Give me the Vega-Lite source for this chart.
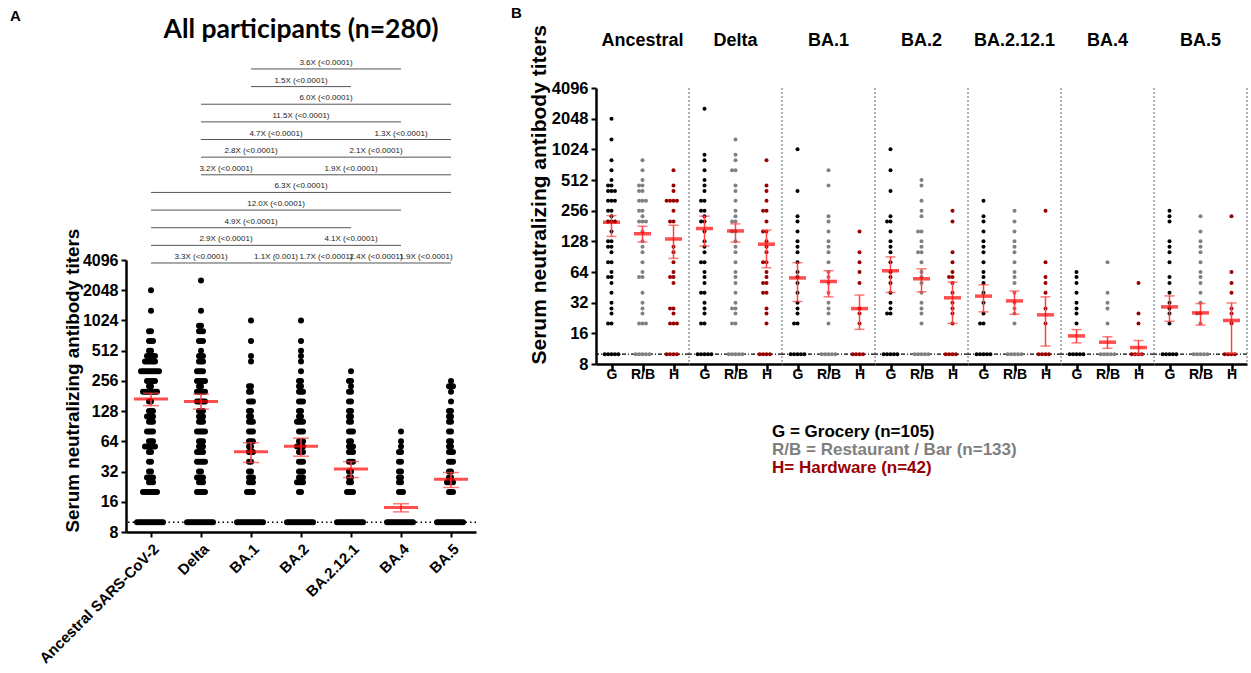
{
"$schema":"https://vega.github.io/schema/vega-lite/v6.json",
"padding":{"left":10,"top":6,"right":2,"bottom":0},
"config":{"font":"Liberation Sans","view":{"stroke":null},
"axis":{"domainColor":"black","domainWidth":2.5,"tickColor":"black","tickWidth":2,"tickSize":5,"labelColor":"black","labelFontWeight":"bold","titleColor":"black","titleFontWeight":"bold","grid":false,"labelFont":"Liberation Sans","titleFont":"Liberation Sans"},
"title":{"font":"Liberation Sans","fontWeight":"bold","color":"black"}},
"resolve":{"scale":{"x":"independent","y":"independent","xOffset":"independent"}},
"datasets":{
"br":[{"a":0,"b":2,"r":1,"lab":"3.3X (<0.0001)"},{"a":2,"b":3,"r":1,"lab":"1.1X (0.001)"},{"a":3,"b":4,"r":1,"lab":"1.7X (<0.0001)"},{"a":4,"b":5,"r":1,"lab":"2.4X (<0.0001)"},{"a":5,"b":6,"r":1,"lab":"1.9X (<0.0001)"},{"a":0,"b":3,"r":2,"lab":"2.9X (<0.0001)"},{"a":3,"b":5,"r":2,"lab":"4.1X (<0.0001)"},{"a":0,"b":4,"r":3,"lab":"4.9X (<0.0001)"},{"a":0,"b":5,"r":4,"lab":"12.0X (<0.0001)"},{"a":0,"b":6,"r":5,"lab":"6.3X (<0.0001)"},{"a":1,"b":2,"r":6,"lab":"3.2X (<0.0001)"},{"a":2,"b":6,"r":6,"lab":"1.9X (<0.0001)"},{"a":1,"b":3,"r":7,"lab":"2.8X (<0.0001)"},{"a":3,"b":6,"r":7,"lab":"2.1X (<0.0001)"},{"a":1,"b":4,"r":8,"lab":"4.7X (<0.0001)"},{"a":4,"b":6,"r":8,"lab":"1.3X (<0.0001)"},{"a":1,"b":5,"r":9,"lab":"11.5X (<0.0001)"},{"a":1,"b":6,"r":10,"lab":"6.0X (<0.0001)"},{"a":2,"b":4,"r":11,"lab":"1.5X (<0.0001)"},{"a":2,"b":5,"r":12,"lab":"3.6X (<0.0001)"}],
"a":[{"v":"Ancestral","m":169,"lo":145,"hi":193},{"v":"Delta","m":160,"lo":134,"hi":189},{"v":"BA.1","m":50.5,"lo":39.4,"hi":62},{"v":"BA.2","m":57.3,"lo":45.5,"hi":68.8},{"v":"BA.2.12.1","m":34,"lo":27.9,"hi":40.2},{"v":"BA.4","m":14,"lo":12.7,"hi":15.3},{"v":"BA.5","m":26.9,"lo":22.2,"hi":31.3}],
"b":[
{"v":"Ancestral","g":"G","m":197,"lo":143,"hi":229},{"v":"Ancestral","g":"R/B","m":152,"lo":126,"hi":180},{"v":"Ancestral","g":"H","m":135,"lo":87,"hi":184},
{"v":"Delta","g":"G","m":171,"lo":115,"hi":226},{"v":"Delta","g":"R/B","m":162,"lo":126,"hi":190},{"v":"Delta","g":"H","m":120,"lo":70.5,"hi":165},
{"v":"BA.1","g":"G","m":56,"lo":32.9,"hi":79},{"v":"BA.1","g":"R/B","m":51.7,"lo":36.5,"hi":65.8},{"v":"BA.1","g":"H","m":28,"lo":17.5,"hi":38},
{"v":"BA.2","g":"G","m":65.8,"lo":40.3,"hi":90},{"v":"BA.2","g":"R/B","m":54.9,"lo":40.9,"hi":68.7},{"v":"BA.2","g":"H","m":35.7,"lo":20,"hi":50.9},
{"v":"BA.2.12.1","g":"G","m":37.1,"lo":26,"hi":47.9},{"v":"BA.2.12.1","g":"R/B","m":33.3,"lo":24.6,"hi":41.6},{"v":"BA.2.12.1","g":"H","m":24.3,"lo":12,"hi":36.5},
{"v":"BA.4","g":"G","m":15.1,"lo":12.9,"hi":17.4},{"v":"BA.4","g":"R/B","m":13.1,"lo":11.4,"hi":14.8},{"v":"BA.4","g":"H","m":11.6,"lo":9.9,"hi":13.6},
{"v":"BA.5","g":"G","m":29.1,"lo":21,"hi":37.3},{"v":"BA.5","g":"R/B","m":25.4,"lo":19.3,"hi":31.4},{"v":"BA.5","g":"H","m":21.4,"lo":10.2,"hi":31.8},
{"v":"Ancestral","g":"G","t":2048},{"v":"Ancestral","g":"G","t":1280},{"v":"Ancestral","g":"G","t":800},{"v":"Ancestral","g":"G","t":640},{"v":"Ancestral","g":"G","t":512},{"v":"Ancestral","g":"G","t":453},{"v":"Ancestral","g":"G","t":453},{"v":"Ancestral","g":"G","t":400},{"v":"Ancestral","g":"G","t":400},{"v":"Ancestral","g":"G","t":400},{"v":"Ancestral","g":"G","t":320},{"v":"Ancestral","g":"G","t":320},{"v":"Ancestral","g":"G","t":320},{"v":"Ancestral","g":"G","t":256},{"v":"Ancestral","g":"G","t":256},{"v":"Ancestral","g":"G","t":226},{"v":"Ancestral","g":"G","t":200},{"v":"Ancestral","g":"G","t":200},{"v":"Ancestral","g":"G","t":200},{"v":"Ancestral","g":"G","t":160},{"v":"Ancestral","g":"G","t":128},{"v":"Ancestral","g":"G","t":128},{"v":"Ancestral","g":"G","t":113},{"v":"Ancestral","g":"G","t":113},{"v":"Ancestral","g":"G","t":100},{"v":"Ancestral","g":"G","t":80},{"v":"Ancestral","g":"G","t":80},{"v":"Ancestral","g":"G","t":64},{"v":"Ancestral","g":"G","t":57},{"v":"Ancestral","g":"G","t":57},{"v":"Ancestral","g":"G","t":50},{"v":"Ancestral","g":"G","t":40},{"v":"Ancestral","g":"G","t":32},{"v":"Ancestral","g":"G","t":28},{"v":"Ancestral","g":"G","t":25},{"v":"Ancestral","g":"G","t":20},{"v":"Ancestral","g":"G","t":20},{"v":"Ancestral","g":"G","t":10},{"v":"Ancestral","g":"G","t":10},{"v":"Ancestral","g":"G","t":10},{"v":"Ancestral","g":"G","t":10},{"v":"Ancestral","g":"G","t":10},
{"v":"Ancestral","g":"R/B","t":800},{"v":"Ancestral","g":"R/B","t":640},{"v":"Ancestral","g":"R/B","t":512},{"v":"Ancestral","g":"R/B","t":453},{"v":"Ancestral","g":"R/B","t":453},{"v":"Ancestral","g":"R/B","t":400},{"v":"Ancestral","g":"R/B","t":400},{"v":"Ancestral","g":"R/B","t":320},{"v":"Ancestral","g":"R/B","t":320},{"v":"Ancestral","g":"R/B","t":320},{"v":"Ancestral","g":"R/B","t":256},{"v":"Ancestral","g":"R/B","t":256},{"v":"Ancestral","g":"R/B","t":226},{"v":"Ancestral","g":"R/B","t":200},{"v":"Ancestral","g":"R/B","t":200},{"v":"Ancestral","g":"R/B","t":200},{"v":"Ancestral","g":"R/B","t":160},{"v":"Ancestral","g":"R/B","t":128},{"v":"Ancestral","g":"R/B","t":113},{"v":"Ancestral","g":"R/B","t":100},{"v":"Ancestral","g":"R/B","t":80},{"v":"Ancestral","g":"R/B","t":64},{"v":"Ancestral","g":"R/B","t":57},{"v":"Ancestral","g":"R/B","t":57},{"v":"Ancestral","g":"R/B","t":40},{"v":"Ancestral","g":"R/B","t":32},{"v":"Ancestral","g":"R/B","t":28},{"v":"Ancestral","g":"R/B","t":25},{"v":"Ancestral","g":"R/B","t":20},{"v":"Ancestral","g":"R/B","t":20},{"v":"Ancestral","g":"R/B","t":20},{"v":"Ancestral","g":"R/B","t":10},{"v":"Ancestral","g":"R/B","t":10},{"v":"Ancestral","g":"R/B","t":10},{"v":"Ancestral","g":"R/B","t":10},{"v":"Ancestral","g":"R/B","t":10},
{"v":"Ancestral","g":"H","t":640},{"v":"Ancestral","g":"H","t":453},{"v":"Ancestral","g":"H","t":400},{"v":"Ancestral","g":"H","t":320},{"v":"Ancestral","g":"H","t":320},{"v":"Ancestral","g":"H","t":320},{"v":"Ancestral","g":"H","t":320},{"v":"Ancestral","g":"H","t":256},{"v":"Ancestral","g":"H","t":200},{"v":"Ancestral","g":"H","t":200},{"v":"Ancestral","g":"H","t":113},{"v":"Ancestral","g":"H","t":100},{"v":"Ancestral","g":"H","t":80},{"v":"Ancestral","g":"H","t":64},{"v":"Ancestral","g":"H","t":57},{"v":"Ancestral","g":"H","t":57},{"v":"Ancestral","g":"H","t":50},{"v":"Ancestral","g":"H","t":28},{"v":"Ancestral","g":"H","t":28},{"v":"Ancestral","g":"H","t":25},{"v":"Ancestral","g":"H","t":20},{"v":"Ancestral","g":"H","t":20},{"v":"Ancestral","g":"H","t":20},{"v":"Ancestral","g":"H","t":10},{"v":"Ancestral","g":"H","t":10},{"v":"Ancestral","g":"H","t":10},{"v":"Ancestral","g":"H","t":10},
{"v":"Delta","g":"G","t":2560},{"v":"Delta","g":"G","t":905},{"v":"Delta","g":"G","t":800},{"v":"Delta","g":"G","t":640},{"v":"Delta","g":"G","t":512},{"v":"Delta","g":"G","t":453},{"v":"Delta","g":"G","t":400},{"v":"Delta","g":"G","t":320},{"v":"Delta","g":"G","t":320},{"v":"Delta","g":"G","t":256},{"v":"Delta","g":"G","t":256},{"v":"Delta","g":"G","t":226},{"v":"Delta","g":"G","t":200},{"v":"Delta","g":"G","t":200},{"v":"Delta","g":"G","t":160},{"v":"Delta","g":"G","t":128},{"v":"Delta","g":"G","t":113},{"v":"Delta","g":"G","t":100},{"v":"Delta","g":"G","t":80},{"v":"Delta","g":"G","t":80},{"v":"Delta","g":"G","t":64},{"v":"Delta","g":"G","t":57},{"v":"Delta","g":"G","t":50},{"v":"Delta","g":"G","t":40},{"v":"Delta","g":"G","t":40},{"v":"Delta","g":"G","t":32},{"v":"Delta","g":"G","t":28},{"v":"Delta","g":"G","t":25},{"v":"Delta","g":"G","t":20},{"v":"Delta","g":"G","t":20},{"v":"Delta","g":"G","t":10},{"v":"Delta","g":"G","t":10},{"v":"Delta","g":"G","t":10},{"v":"Delta","g":"G","t":10},{"v":"Delta","g":"G","t":10},
{"v":"Delta","g":"R/B","t":1280},{"v":"Delta","g":"R/B","t":905},{"v":"Delta","g":"R/B","t":800},{"v":"Delta","g":"R/B","t":640},{"v":"Delta","g":"R/B","t":640},{"v":"Delta","g":"R/B","t":453},{"v":"Delta","g":"R/B","t":400},{"v":"Delta","g":"R/B","t":320},{"v":"Delta","g":"R/B","t":256},{"v":"Delta","g":"R/B","t":226},{"v":"Delta","g":"R/B","t":200},{"v":"Delta","g":"R/B","t":200},{"v":"Delta","g":"R/B","t":160},{"v":"Delta","g":"R/B","t":160},{"v":"Delta","g":"R/B","t":128},{"v":"Delta","g":"R/B","t":113},{"v":"Delta","g":"R/B","t":100},{"v":"Delta","g":"R/B","t":80},{"v":"Delta","g":"R/B","t":64},{"v":"Delta","g":"R/B","t":57},{"v":"Delta","g":"R/B","t":50},{"v":"Delta","g":"R/B","t":40},{"v":"Delta","g":"R/B","t":32},{"v":"Delta","g":"R/B","t":28},{"v":"Delta","g":"R/B","t":28},{"v":"Delta","g":"R/B","t":25},{"v":"Delta","g":"R/B","t":20},{"v":"Delta","g":"R/B","t":20},{"v":"Delta","g":"R/B","t":10},{"v":"Delta","g":"R/B","t":10},{"v":"Delta","g":"R/B","t":10},{"v":"Delta","g":"R/B","t":10},{"v":"Delta","g":"R/B","t":10},
{"v":"Delta","g":"H","t":800},{"v":"Delta","g":"H","t":453},{"v":"Delta","g":"H","t":400},{"v":"Delta","g":"H","t":320},{"v":"Delta","g":"H","t":256},{"v":"Delta","g":"H","t":256},{"v":"Delta","g":"H","t":200},{"v":"Delta","g":"H","t":160},{"v":"Delta","g":"H","t":160},{"v":"Delta","g":"H","t":128},{"v":"Delta","g":"H","t":113},{"v":"Delta","g":"H","t":100},{"v":"Delta","g":"H","t":80},{"v":"Delta","g":"H","t":80},{"v":"Delta","g":"H","t":64},{"v":"Delta","g":"H","t":57},{"v":"Delta","g":"H","t":50},{"v":"Delta","g":"H","t":50},{"v":"Delta","g":"H","t":40},{"v":"Delta","g":"H","t":40},{"v":"Delta","g":"H","t":28},{"v":"Delta","g":"H","t":25},{"v":"Delta","g":"H","t":20},{"v":"Delta","g":"H","t":10},{"v":"Delta","g":"H","t":10},{"v":"Delta","g":"H","t":10},{"v":"Delta","g":"H","t":10},
{"v":"BA.1","g":"G","t":1024},{"v":"BA.1","g":"G","t":400},{"v":"BA.1","g":"G","t":226},{"v":"BA.1","g":"G","t":200},{"v":"BA.1","g":"G","t":160},{"v":"BA.1","g":"G","t":128},{"v":"BA.1","g":"G","t":113},{"v":"BA.1","g":"G","t":100},{"v":"BA.1","g":"G","t":80},{"v":"BA.1","g":"G","t":64},{"v":"BA.1","g":"G","t":57},{"v":"BA.1","g":"G","t":50},{"v":"BA.1","g":"G","t":40},{"v":"BA.1","g":"G","t":32},{"v":"BA.1","g":"G","t":28},{"v":"BA.1","g":"G","t":25},{"v":"BA.1","g":"G","t":20},{"v":"BA.1","g":"G","t":20},{"v":"BA.1","g":"G","t":10},{"v":"BA.1","g":"G","t":10},{"v":"BA.1","g":"G","t":10},{"v":"BA.1","g":"G","t":10},{"v":"BA.1","g":"G","t":10},
{"v":"BA.1","g":"R/B","t":640},{"v":"BA.1","g":"R/B","t":453},{"v":"BA.1","g":"R/B","t":226},{"v":"BA.1","g":"R/B","t":200},{"v":"BA.1","g":"R/B","t":160},{"v":"BA.1","g":"R/B","t":128},{"v":"BA.1","g":"R/B","t":113},{"v":"BA.1","g":"R/B","t":100},{"v":"BA.1","g":"R/B","t":80},{"v":"BA.1","g":"R/B","t":64},{"v":"BA.1","g":"R/B","t":57},{"v":"BA.1","g":"R/B","t":50},{"v":"BA.1","g":"R/B","t":40},{"v":"BA.1","g":"R/B","t":32},{"v":"BA.1","g":"R/B","t":28},{"v":"BA.1","g":"R/B","t":25},{"v":"BA.1","g":"R/B","t":20},{"v":"BA.1","g":"R/B","t":10},{"v":"BA.1","g":"R/B","t":10},{"v":"BA.1","g":"R/B","t":10},{"v":"BA.1","g":"R/B","t":10},{"v":"BA.1","g":"R/B","t":10},
{"v":"BA.1","g":"H","t":160},{"v":"BA.1","g":"H","t":100},{"v":"BA.1","g":"H","t":80},{"v":"BA.1","g":"H","t":64},{"v":"BA.1","g":"H","t":50},{"v":"BA.1","g":"H","t":28},{"v":"BA.1","g":"H","t":25},{"v":"BA.1","g":"H","t":20},{"v":"BA.1","g":"H","t":10},{"v":"BA.1","g":"H","t":10},{"v":"BA.1","g":"H","t":10},{"v":"BA.1","g":"H","t":10},
{"v":"BA.2","g":"G","t":1024},{"v":"BA.2","g":"G","t":640},{"v":"BA.2","g":"G","t":400},{"v":"BA.2","g":"G","t":226},{"v":"BA.2","g":"G","t":200},{"v":"BA.2","g":"G","t":200},{"v":"BA.2","g":"G","t":160},{"v":"BA.2","g":"G","t":128},{"v":"BA.2","g":"G","t":113},{"v":"BA.2","g":"G","t":100},{"v":"BA.2","g":"G","t":80},{"v":"BA.2","g":"G","t":64},{"v":"BA.2","g":"G","t":57},{"v":"BA.2","g":"G","t":50},{"v":"BA.2","g":"G","t":40},{"v":"BA.2","g":"G","t":32},{"v":"BA.2","g":"G","t":28},{"v":"BA.2","g":"G","t":25},{"v":"BA.2","g":"G","t":25},{"v":"BA.2","g":"G","t":10},{"v":"BA.2","g":"G","t":10},{"v":"BA.2","g":"G","t":10},{"v":"BA.2","g":"G","t":10},{"v":"BA.2","g":"G","t":10},
{"v":"BA.2","g":"R/B","t":512},{"v":"BA.2","g":"R/B","t":453},{"v":"BA.2","g":"R/B","t":320},{"v":"BA.2","g":"R/B","t":256},{"v":"BA.2","g":"R/B","t":226},{"v":"BA.2","g":"R/B","t":160},{"v":"BA.2","g":"R/B","t":160},{"v":"BA.2","g":"R/B","t":128},{"v":"BA.2","g":"R/B","t":113},{"v":"BA.2","g":"R/B","t":100},{"v":"BA.2","g":"R/B","t":100},{"v":"BA.2","g":"R/B","t":80},{"v":"BA.2","g":"R/B","t":64},{"v":"BA.2","g":"R/B","t":57},{"v":"BA.2","g":"R/B","t":50},{"v":"BA.2","g":"R/B","t":40},{"v":"BA.2","g":"R/B","t":32},{"v":"BA.2","g":"R/B","t":28},{"v":"BA.2","g":"R/B","t":25},{"v":"BA.2","g":"R/B","t":20},{"v":"BA.2","g":"R/B","t":10},{"v":"BA.2","g":"R/B","t":10},{"v":"BA.2","g":"R/B","t":10},{"v":"BA.2","g":"R/B","t":10},{"v":"BA.2","g":"R/B","t":10},
{"v":"BA.2","g":"H","t":256},{"v":"BA.2","g":"H","t":200},{"v":"BA.2","g":"H","t":100},{"v":"BA.2","g":"H","t":80},{"v":"BA.2","g":"H","t":64},{"v":"BA.2","g":"H","t":57},{"v":"BA.2","g":"H","t":57},{"v":"BA.2","g":"H","t":50},{"v":"BA.2","g":"H","t":40},{"v":"BA.2","g":"H","t":32},{"v":"BA.2","g":"H","t":28},{"v":"BA.2","g":"H","t":25},{"v":"BA.2","g":"H","t":20},{"v":"BA.2","g":"H","t":10},{"v":"BA.2","g":"H","t":10},{"v":"BA.2","g":"H","t":10},{"v":"BA.2","g":"H","t":10},
{"v":"BA.2.12.1","g":"G","t":320},{"v":"BA.2.12.1","g":"G","t":226},{"v":"BA.2.12.1","g":"G","t":200},{"v":"BA.2.12.1","g":"G","t":160},{"v":"BA.2.12.1","g":"G","t":128},{"v":"BA.2.12.1","g":"G","t":113},{"v":"BA.2.12.1","g":"G","t":100},{"v":"BA.2.12.1","g":"G","t":80},{"v":"BA.2.12.1","g":"G","t":64},{"v":"BA.2.12.1","g":"G","t":57},{"v":"BA.2.12.1","g":"G","t":50},{"v":"BA.2.12.1","g":"G","t":40},{"v":"BA.2.12.1","g":"G","t":32},{"v":"BA.2.12.1","g":"G","t":25},{"v":"BA.2.12.1","g":"G","t":20},{"v":"BA.2.12.1","g":"G","t":20},{"v":"BA.2.12.1","g":"G","t":10},{"v":"BA.2.12.1","g":"G","t":10},{"v":"BA.2.12.1","g":"G","t":10},{"v":"BA.2.12.1","g":"G","t":10},{"v":"BA.2.12.1","g":"G","t":10},
{"v":"BA.2.12.1","g":"R/B","t":256},{"v":"BA.2.12.1","g":"R/B","t":200},{"v":"BA.2.12.1","g":"R/B","t":160},{"v":"BA.2.12.1","g":"R/B","t":128},{"v":"BA.2.12.1","g":"R/B","t":113},{"v":"BA.2.12.1","g":"R/B","t":100},{"v":"BA.2.12.1","g":"R/B","t":80},{"v":"BA.2.12.1","g":"R/B","t":64},{"v":"BA.2.12.1","g":"R/B","t":57},{"v":"BA.2.12.1","g":"R/B","t":50},{"v":"BA.2.12.1","g":"R/B","t":40},{"v":"BA.2.12.1","g":"R/B","t":32},{"v":"BA.2.12.1","g":"R/B","t":28},{"v":"BA.2.12.1","g":"R/B","t":25},{"v":"BA.2.12.1","g":"R/B","t":20},{"v":"BA.2.12.1","g":"R/B","t":10},{"v":"BA.2.12.1","g":"R/B","t":10},{"v":"BA.2.12.1","g":"R/B","t":10},{"v":"BA.2.12.1","g":"R/B","t":10},{"v":"BA.2.12.1","g":"R/B","t":10},
{"v":"BA.2.12.1","g":"H","t":256},{"v":"BA.2.12.1","g":"H","t":80},{"v":"BA.2.12.1","g":"H","t":57},{"v":"BA.2.12.1","g":"H","t":50},{"v":"BA.2.12.1","g":"H","t":40},{"v":"BA.2.12.1","g":"H","t":28},{"v":"BA.2.12.1","g":"H","t":20},{"v":"BA.2.12.1","g":"H","t":10},{"v":"BA.2.12.1","g":"H","t":10},{"v":"BA.2.12.1","g":"H","t":10},{"v":"BA.2.12.1","g":"H","t":10},
{"v":"BA.4","g":"G","t":64},{"v":"BA.4","g":"G","t":57},{"v":"BA.4","g":"G","t":50},{"v":"BA.4","g":"G","t":40},{"v":"BA.4","g":"G","t":32},{"v":"BA.4","g":"G","t":28},{"v":"BA.4","g":"G","t":25},{"v":"BA.4","g":"G","t":20},{"v":"BA.4","g":"G","t":10},{"v":"BA.4","g":"G","t":10},{"v":"BA.4","g":"G","t":10},{"v":"BA.4","g":"G","t":10},{"v":"BA.4","g":"G","t":10},
{"v":"BA.4","g":"R/B","t":80},{"v":"BA.4","g":"R/B","t":40},{"v":"BA.4","g":"R/B","t":32},{"v":"BA.4","g":"R/B","t":28},{"v":"BA.4","g":"R/B","t":20},{"v":"BA.4","g":"R/B","t":10},{"v":"BA.4","g":"R/B","t":10},{"v":"BA.4","g":"R/B","t":10},{"v":"BA.4","g":"R/B","t":10},{"v":"BA.4","g":"R/B","t":10},
{"v":"BA.4","g":"H","t":50},{"v":"BA.4","g":"H","t":25},{"v":"BA.4","g":"H","t":20},{"v":"BA.4","g":"H","t":10},{"v":"BA.4","g":"H","t":10},{"v":"BA.4","g":"H","t":10},{"v":"BA.4","g":"H","t":10},
{"v":"BA.5","g":"G","t":256},{"v":"BA.5","g":"G","t":226},{"v":"BA.5","g":"G","t":200},{"v":"BA.5","g":"G","t":128},{"v":"BA.5","g":"G","t":113},{"v":"BA.5","g":"G","t":100},{"v":"BA.5","g":"G","t":80},{"v":"BA.5","g":"G","t":57},{"v":"BA.5","g":"G","t":50},{"v":"BA.5","g":"G","t":40},{"v":"BA.5","g":"G","t":32},{"v":"BA.5","g":"G","t":28},{"v":"BA.5","g":"G","t":25},{"v":"BA.5","g":"G","t":20},{"v":"BA.5","g":"G","t":10},{"v":"BA.5","g":"G","t":10},{"v":"BA.5","g":"G","t":10},{"v":"BA.5","g":"G","t":10},{"v":"BA.5","g":"G","t":10},
{"v":"BA.5","g":"R/B","t":226},{"v":"BA.5","g":"R/B","t":160},{"v":"BA.5","g":"R/B","t":128},{"v":"BA.5","g":"R/B","t":113},{"v":"BA.5","g":"R/B","t":100},{"v":"BA.5","g":"R/B","t":80},{"v":"BA.5","g":"R/B","t":64},{"v":"BA.5","g":"R/B","t":57},{"v":"BA.5","g":"R/B","t":50},{"v":"BA.5","g":"R/B","t":40},{"v":"BA.5","g":"R/B","t":32},{"v":"BA.5","g":"R/B","t":25},{"v":"BA.5","g":"R/B","t":25},{"v":"BA.5","g":"R/B","t":20},{"v":"BA.5","g":"R/B","t":10},{"v":"BA.5","g":"R/B","t":10},{"v":"BA.5","g":"R/B","t":10},{"v":"BA.5","g":"R/B","t":10},{"v":"BA.5","g":"R/B","t":10},
{"v":"BA.5","g":"H","t":226},{"v":"BA.5","g":"H","t":64},{"v":"BA.5","g":"H","t":50},{"v":"BA.5","g":"H","t":40},{"v":"BA.5","g":"H","t":28},{"v":"BA.5","g":"H","t":25},{"v":"BA.5","g":"H","t":20},{"v":"BA.5","g":"H","t":10},{"v":"BA.5","g":"H","t":10},{"v":"BA.5","g":"H","t":10},{"v":"BA.5","g":"H","t":10}
]},
"spacing":34,
"hconcat":[
{"title":{"text":"A","anchor":"start","frame":"group","fontSize":15,"dx":-116,"offset":-7},
 "spacing":0,
 "bounds":"flush",
 "vconcat":[
  {"title":{"text":"All participants (n=280)","font":"Lato","fontSize":26.5,"anchor":"middle","offset":15},
   "width":350,"height":172,"data":{"name":"br"},
   "layer":[
    {"mark":{"type":"rule","color":"#555555","strokeWidth":1},
     "encoding":{"x":{"field":"a","type":"quantitative","scale":{"domain":[-0.5,6.5],"nice":false,"zero":false},"axis":null},"x2":{"field":"b"},
      "y":{"field":"r","type":"quantitative","scale":{"domain":[1.17,10.92],"nice":false,"zero":false},"axis":null}}},
    {"transform":[{"fold":["a","b"],"as":["k","p"]},{"aggregate":[{"op":"mean","field":"p","as":"mid"}],"groupby":["r","lab"]}],
     "mark":{"type":"text","fontSize":8,"color":"#222222","baseline":"bottom","dy":-2},
     "encoding":{"x":{"field":"mid","type":"quantitative"},"y":{"field":"r","type":"quantitative"},"text":{"field":"lab"}}}
   ]},
  {"width":350,"height":272,
   "layer":[
    {"data":{"name":"a"},"transform":[{"filter":"datum.v=='Ancestral'"}],
     "mark":{"type":"rule","strokeDash":[1.5,3],"color":"black","strokeWidth":1.3},
     "encoding":{"y":{"datum":10,"type":"quantitative"}}},
    {"data":{"name":"b"},
     "transform":[{"filter":"isValid(datum.t)"},{"window":[{"op":"row_number","as":"k"}],"groupby":["v","t"]}],
     "mark":{"type":"circle","size":36,"opacity":1,"color":"black"},
     "encoding":{
      "x":{"field":"v","type":"nominal","sort":["Ancestral","Delta","BA.1","BA.2","BA.2.12.1","BA.4","BA.5"],"scale":{"domain":["Ancestral","Delta","BA.1","BA.2","BA.2.12.1","BA.4","BA.5"],"paddingInner":0,"paddingOuter":0},
       "axis":{"title":null,"labelAngle":-45,"labelAlign":"right","labelFontSize":15,"labelPadding":4,"labelLimit":300,"bandPosition":0.5,"tickOffset":0,"labelExpr":"datum.value=='Ancestral'?'Ancestral SARS-CoV-2':datum.value"}},
      "xOffset":{"field":"k","type":"ordinal","scale":{"domain":[24,22,20,18,16,14,12,10,8,6,4,2,1,3,5,7,9,11,13,15,17,19,21,23,25]}},
      "y":{"field":"t","type":"quantitative","scale":{"type":"log","base":2,"domain":[8,4096],"nice":false},
       "axis":{"values":[8,16,32,64,128,256,512,1024,2048,4096],"format":"d","title":"Serum neutralizing antibody titers","titleFontSize":18.8,"titleAnchor":"start","labelFontSize":16,"titlePadding":0,"labelPadding":3}}}},
    {"data":{"name":"a"},"mark":{"type":"rule","color":"#FF4040","strokeWidth":1.5},
     "encoding":{"x":{"field":"v","type":"nominal"},"y":{"field":"lo","type":"quantitative"},"y2":{"field":"hi"}}},
    {"data":{"name":"a"},"mark":{"type":"tick","color":"#FF4040","size":16,"thickness":1.5},
     "encoding":{"x":{"field":"v","type":"nominal"},"y":{"field":"lo","type":"quantitative"}}},
    {"data":{"name":"a"},"mark":{"type":"tick","color":"#FF4040","size":16,"thickness":1.5},
     "encoding":{"x":{"field":"v","type":"nominal"},"y":{"field":"hi","type":"quantitative"}}},
    {"data":{"name":"a"},"mark":{"type":"tick","color":"#FF0000","size":34,"thickness":3},
     "encoding":{"x":{"field":"v","type":"nominal"},"y":{"field":"m","type":"quantitative"}}}
   ]}
 ]},
{"title":{"text":"B","anchor":"start","frame":"group","fontSize":15,"dx":-85,"offset":3},
 "data":{"name":"b"},
 "spacing":0,
 "bounds":"flush",
 "facet":{"column":{"field":"v","type":"nominal","sort":["Ancestral","Delta","BA.1","BA.2","BA.2.12.1","BA.4","BA.5"],
   "header":{"title":null,"labelFont":"Liberation Sans","labelFontSize":18,"labelFontWeight":"bold","labelColor":"black","labelPadding":38}}},
 "spec":{"width":93,"height":276,
  "layer":[
   {"transform":[{"filter":"isValid(datum.m) && datum.g=='G'"}],
    "mark":{"type":"rule","strokeDash":[4,2,1,2],"color":"black","strokeWidth":1.2},
    "encoding":{"y":{"datum":10,"type":"quantitative"}}},
   {"transform":[{"filter":"isValid(datum.m) && datum.g=='H'"}],
    "mark":{"type":"rule","strokeDash":[2,2],"color":"#666666","strokeWidth":1},
    "encoding":{"x":{"field":"g","type":"nominal","bandPosition":1}}},
   {"transform":[{"filter":"isValid(datum.t)"},{"window":[{"op":"row_number","as":"k"}],"groupby":["v","g","t"]}],
    "mark":{"type":"circle","size":16,"opacity":1},
    "encoding":{
     "x":{"field":"g","type":"nominal","sort":["G","R/B","H"],"scale":{"domain":["G","R/B","H"],"paddingInner":0,"paddingOuter":0},"axis":{"title":null,"labelFontSize":14,"labelAngle":0,"labelAlign":"center","labelPadding":3,"tickSize":7,"tickWidth":2.5,"bandPosition":0.5,"tickOffset":0}},
     "xOffset":{"field":"k","type":"ordinal","scale":{"domain":[8,6,4,2,1,3,5,7,9]}},
     "y":{"field":"t","type":"quantitative","scale":{"type":"log","base":2,"domain":[8,4096],"nice":false},
      "axis":{"values":[8,16,32,64,128,256,512,1024,2048,4096],"format":"d","title":"Serum neutralizing antibody titers","titleFontSize":21,"titleAnchor":"start","labelFontSize":16.5,"titlePadding":2,"labelPadding":3}},
     "color":{"field":"g","type":"nominal","scale":{"domain":["G","R/B","H"],"range":["#000000","#808080","#990000"]},
      "legend":{"orient":"none","legendX":629,"legendY":335,"title":null,"direction":"vertical","labelFontSize":17,"labelFontWeight":"bold","labelFont":"Liberation Sans","labelLimit":400,"symbolSize":0,"symbolOpacity":0,"symbolStrokeWidth":0,"labelOffset":0,"rowPadding":0,
       "labelExpr":"datum.value=='G'?'G = Grocery (n=105)':datum.value=='R/B'?'R/B = Restaurant / Bar (n=133)':'H= Hardware (n=42)'",
       "encode":{"labels":{"update":{"fill":{"signal":"datum.value=='G'?'#000000':datum.value=='R/B'?'#808080':'#990000'"}}}}}}}},
   {"transform":[{"filter":"isValid(datum.m)"}],"mark":{"type":"rule","color":"#FF4040","strokeWidth":1.5},
    "encoding":{"x":{"field":"g","type":"nominal"},"y":{"field":"lo","type":"quantitative"},"y2":{"field":"hi"}}},
   {"transform":[{"filter":"isValid(datum.m)"}],"mark":{"type":"tick","color":"#FF4040","size":10,"thickness":1.5},
    "encoding":{"x":{"field":"g","type":"nominal"},"y":{"field":"lo","type":"quantitative"}}},
   {"transform":[{"filter":"isValid(datum.m)"}],"mark":{"type":"tick","color":"#FF4040","size":10,"thickness":1.5},
    "encoding":{"x":{"field":"g","type":"nominal"},"y":{"field":"hi","type":"quantitative"}}},
   {"transform":[{"filter":"isValid(datum.m)"}],"mark":{"type":"tick","color":"#FF0000","size":17,"thickness":3.5},
    "encoding":{"x":{"field":"g","type":"nominal"},"y":{"field":"m","type":"quantitative"}}}
  ]}}
]}
